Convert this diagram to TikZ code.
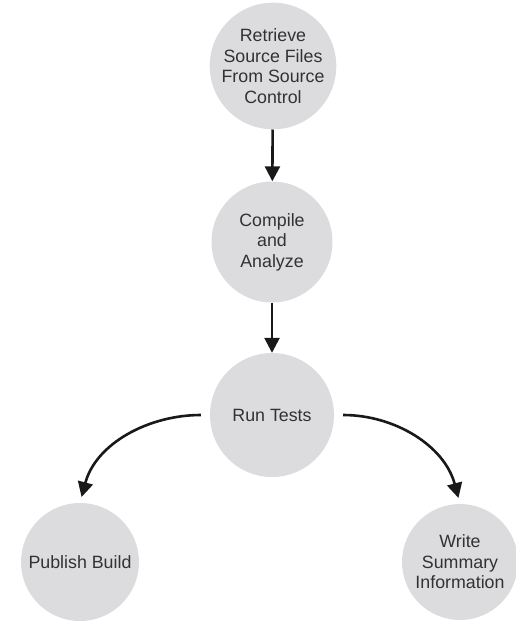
\documentclass[tikz,border=0pt]{standalone}
\usepackage{fontspec}
\setmainfont{Liberation Sans}
\usetikzlibrary{arrows.meta}
\definecolor{stepfill}{RGB}{220,220,222}
\definecolor{steptext}{RGB}{50,50,50}
\tikzset{
  stepcircle/.style={circle, fill=stepfill, minimum size=#1, inner sep=0pt,
    text=steptext, align=center,
    font=\fontsize{17.8}{20.5}\selectfont},
  stepcircle/.default=122pt,
  flow/.style={line width=2.6pt, black!90,
    -{Triangle[length=15pt,width=15pt]}},
}
\begin{document}
\begin{tikzpicture}[x=1pt,y=-1pt]
\useasboundingbox (0,0) rectangle (515,623);
% process steps
\node[stepcircle] (ret) at (273,66) {Retrieve\\Source Files\\From Source\\Control};
\node[stepcircle=121pt] (cmp) at (272,242) {Compile\\and\\Analyze};
\node[stepcircle=124pt] (rt) at (272,415) {Run Tests};
\node[stepcircle=118pt] (pb) at (80,562) {Publish Build};
\node[stepcircle=116pt] (ws) at (460,562) {Write\\Summary\\Information};
% connectors
\draw[flow] (ret) -- (cmp);
\draw[flow] (cmp) -- (rt);
\draw[flow, shorten <=9pt, shorten >=6pt] (rt.west) to[out=180,in=75] (pb.north);
\draw[flow, shorten <=9pt, shorten >=6pt] (rt.east) to[out=0,in=105] (ws.north);
\end{tikzpicture}
\end{document}
